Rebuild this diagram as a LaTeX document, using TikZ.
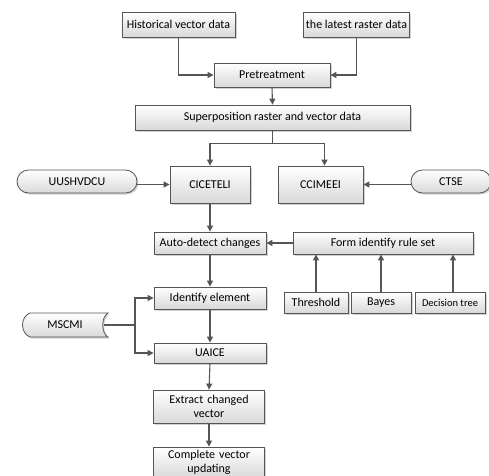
\documentclass[tikz,border=0pt]{standalone}
\usepackage{fontspec}
\setmainfont{Carlito}
\usetikzlibrary{arrows.meta,shadows,calc}
\definecolor{linec}{HTML}{555555}
\begin{document}
\begin{tikzpicture}[x=1pt,y=-1pt,
  box/.style={draw=linec, line width=0.8pt, top color=white, bottom color=gray!30,
    drop shadow={shadow xshift=1.5pt,shadow yshift=-1.5pt,opacity=0.35},
    inner sep=1pt, align=center, font=\fontsize{12}{13.5}\selectfont},
  term/.style={box, rounded corners=11.5pt},
  arr/.style={draw=linec, line width=1.1pt, -{Triangle[length=6pt,width=6pt]}},
  ln/.style={draw=linec, line width=1.1pt}]
\clip (0,0) rectangle (489,475);
\fill[white] (0,0) rectangle (489,475);

\node[box, minimum width=113pt, minimum height=25pt] (hist) at (178.5,24.5) {Historical vector data};
\node[box, minimum width=106pt, minimum height=25pt] (latest) at (356.5,24.5) {the latest raster data};
\node[box, minimum width=116pt, minimum height=24pt] (pre) at (272,75) {Pretreatment};
\node[box, minimum width=275pt, minimum height=25pt] (sup) at (272.5,117.5) {Superposition raster and vector data};
\node[box, minimum width=80pt, minimum height=37pt] (cic) at (210,184.5) {CICETELI};
\node[box, minimum width=85pt, minimum height=37pt] (cci) at (320.5,184.5) {CCIMEEI};
\node[term, minimum width=120pt, minimum height=23pt] (uus) at (77,181.5) {UUSHVDCU};
\node[term, minimum width=80pt, minimum height=23pt] (ctse) at (451,181.5) {CTSE};
\node[box, minimum width=112pt, minimum height=22pt] (auto) at (210,243) {Auto-detect changes};
\node[box, minimum width=180pt, minimum height=22pt] (form) at (383,243) {Form identify rule set};
\node[box, minimum width=64pt, minimum height=21pt] (thr) at (316,302.5) {Threshold};
\node[box, minimum width=60pt, minimum height=21pt] (bay) at (381,302.5) {Bayes};
\node[box, minimum width=70pt, minimum height=21pt, font=\fontsize{10.5}{12}\selectfont] (dec) at (450,302.5) {Decision tree};
\node[box, minimum width=112pt, minimum height=22pt] (ide) at (210,298) {Identify element};
\node[box, minimum width=112pt, minimum height=20pt] (uai) at (210,353) {UAICE};
\node[box, minimum width=111pt, minimum height=33pt, text width=100pt] (ext) at (209,406.5) {Extract changed\\vector};
\node[box, minimum width=111pt, minimum height=31pt, text width=100pt] (com) at (209,462.5) {Complete vector\\updating};

% stored data shape
\draw[draw=linec, line width=0.8pt, top color=white, bottom color=gray!30,
    drop shadow={shadow xshift=1.5pt,shadow yshift=-1.5pt,opacity=0.35}]
  (30,313) -- (108,313) .. controls (101,317) and (101,333) .. (108,337)
  -- (30,337) .. controls (20,333) and (20,317) .. (30,313) -- cycle;
\node[minimum width=78pt, minimum height=24pt, inner sep=1pt, font=\fontsize{12}{13.5}\selectfont] (msc) at (65,325) {MSCMI};

% connectors
\draw[arr] (hist.south) |- (pre.west);
\draw[arr] (latest.south) |- (pre.east);
\draw[arr] (pre.south) -- (sup.north);
\draw[ln] (sup.south) -- ++(0,13.5) coordinate (j);
\draw[arr] (j) -| (cic.north);
\draw[arr] (j) -| ([xshift=4pt]cci.north);
\draw[arr] ([yshift=-3pt]uus.east) -- ([yshift=-3pt]uus.east -| cic.west);
\draw[arr] ([yshift=-3pt]ctse.west) -- ([yshift=-3pt]ctse.west -| cci.east);
\draw[arr] (cic.south) -- (auto.north);
\draw[arr] (form.west) -- (auto.east);
\draw[arr] (thr.north) -- (thr.north |- form.south);
\draw[arr] (bay.north) -- (bay.north |- form.south);
\draw[arr] ([xshift=3pt]dec.north) -- ([xshift=3pt]dec.north |- form.south);
\draw[arr] (auto.south) -- (ide.north);
\draw[ln] (msc.east) -- (135,325) coordinate (m);
\draw[arr] (m) |- (ide.west);
\draw[arr] (m) |- (uai.west);
\draw[arr] (ide.south) -- (uai.north);
\draw[arr] (uai.south) -- (ext.north);
\draw[arr] (ext.south) -- (com.north);
\end{tikzpicture}
\end{document}
